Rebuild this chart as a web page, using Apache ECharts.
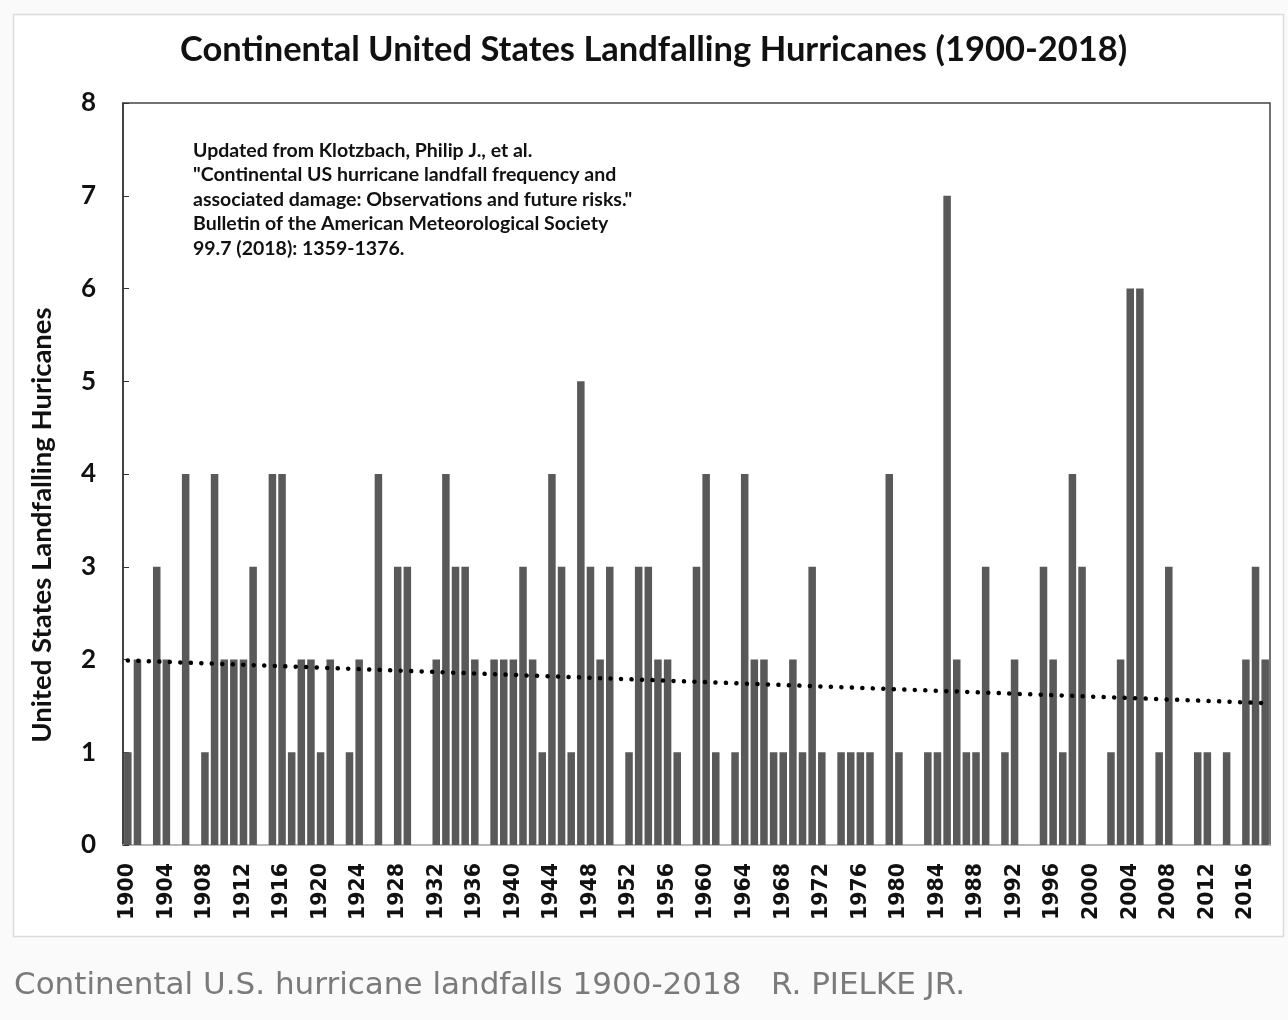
<!DOCTYPE html>
<html>
<head>
<meta charset="utf-8">
<title>Continental United States Landfalling Hurricanes (1900-2018)</title>
<script src="https://cdn.jsdelivr.net/npm/echarts@6/dist/echarts.min.js"></script>
<style>
  html, body { margin: 0; padding: 0; background: #fafafa; }
  #main { width: 1288px; height: 1020px; }
</style>
</head>
<body>
<div id="main"></div>
<script>
// years 1900..2018
var years = [];
for (var y = 1900; y <= 2018; y++) years.push(String(y));

// landfalling hurricanes per year
var landfalls = [
  1, 2, 0, 3, 2, 0, 4, 0, 1, 4,   // 1900s
  2, 2, 2, 3, 0, 4, 4, 1, 2, 2,   // 1910s
  1, 2, 0, 1, 2, 0, 4, 0, 3, 3,   // 1920s
  0, 0, 2, 4, 3, 3, 2, 0, 2, 2,   // 1930s
  2, 3, 2, 1, 4, 3, 1, 5, 3, 2,   // 1940s
  3, 0, 1, 3, 3, 2, 2, 1, 0, 3,   // 1950s
  4, 1, 0, 1, 4, 2, 2, 1, 1, 2,   // 1960s
  1, 3, 1, 0, 1, 1, 1, 1, 0, 4,   // 1970s
  1, 0, 0, 1, 1, 7, 2, 1, 1, 3,   // 1980s
  0, 1, 2, 0, 0, 3, 2, 1, 4, 3,   // 1990s
  0, 0, 1, 2, 6, 6, 0, 1, 3, 0,   // 2000s
  0, 1, 1, 0, 1, 0, 2, 3, 2       // 2010s
];

// linear trend end points
var trendYears = ['1900', '2018'];
var trendValues = [1.99, 1.53];

var yTicks = [0, 1, 2, 3, 4, 5, 6, 7, 8];

var noteLines = [
  'Updated from Klotzbach, Philip J., et al.',
  '"Continental US hurricane landfall frequency and',
  'associated damage: Observations and future risks."',
  'Bulletin of the American Meteorological Society',
  '99.7 (2018): 1359-1376.'
];

var trendData = years.map(function (yr) {
  var i = trendYears.indexOf(yr);
  return i >= 0 ? trendValues[i] : null;
});

var myChart = echarts.init(document.getElementById('main'));

var option = {
  backgroundColor: '#fafafa',
  animation: false,
  graphic: [
    {
      type: 'rect',
      z: -10,
      shape: { x: 13.5, y: 14.5, width: 1270, height: 922 },
      style: { fill: '#ffffff', stroke: '#dcdcdc', lineWidth: 1.5 }
    },
    {
      type: 'text',
      left: 14,
      top: 970,
      style: {
        text: 'Continental U.S. hurricane landfalls 1900-2018   R. PIELKE JR.',
        fill: '#7a7a7a',
        font: '31px "DejaVu Sans", sans-serif'
      }
    },
    {
      // axis title, sits a bit below the plot centre like in the source
      type: 'text',
      x: 42,
      y: 525,
      rotation: Math.PI / 2,
      style: {
        text: 'United States Landfalling Huricanes',
        fill: '#111',
        font: 'bold 27.5px Lato',
        align: 'center',
        verticalAlign: 'middle'
      }
    }
  ],
  title: [
    {
      text: 'Continental United States Landfalling Hurricanes (1900-2018)',
      left: 175,
      top: 27,
      textStyle: {
        fontFamily: 'Lato',
        fontWeight: 'bold',
        fontSize: 34.5,
        color: '#111'
      }
    },
    {
      text: noteLines.join('\n'),
      left: 188,
      top: 133,
      textStyle: {
        fontFamily: 'Lato',
        fontWeight: 'bold',
        fontSize: 19.5,
        lineHeight: 24.6,
        color: '#111'
      }
    }
  ],
  grid: {
    left: 123,
    right: 18,
    top: 103,
    bottom: 175,
    show: true,
    borderColor: '#444',
    borderWidth: 1.5,
    backgroundColor: 'transparent'
  },
  xAxis: {
    type: 'category',
    data: years,
    axisLine: { lineStyle: { color: '#d0d0d0', width: 1.5 } },
    axisTick: { show: false },
    axisLabel: {
      interval: 3,
      rotate: 90,
      margin: 18,
      color: '#111',
      fontFamily: '"DejaVu Sans", sans-serif',
      fontWeight: 'bold',
      fontSize: 20.5
    }
  },
  yAxis: {
    type: 'value',
    min: yTicks[0],
    max: yTicks[yTicks.length - 1],
    interval: 1,
    splitLine: { show: false },
    axisLine: { show: true, lineStyle: { color: '#333', width: 1.5 } },
    axisTick: { show: true, inside: true, length: 6, lineStyle: { color: '#333' } },
    axisLabel: {
      margin: 27,
      color: '#111',
      fontFamily: 'Lato',
      fontWeight: 'bold',
      fontSize: 26
    }
  },
  series: [
    {
      name: 'Landfalls',
      type: 'bar',
      data: landfalls,
      barCategoryGap: '22%',
      itemStyle: { color: '#595959' }
    },
    {
      name: 'Linear trend',
      type: 'line',
      data: trendData,
      connectNulls: true,
      showSymbol: false,
      symbol: 'none',
      z: 5,
      lineStyle: {
        color: '#000',
        width: 4.5,
        type: [0.1, 10.4],
        cap: 'round'
      }
    }
  ]
};

myChart.setOption(option);
</script>
</body>
</html>
